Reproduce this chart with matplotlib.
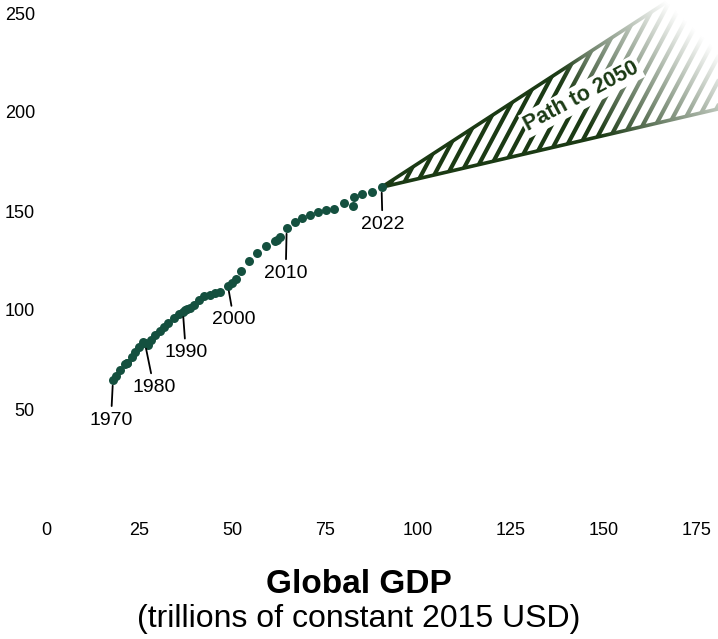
import numpy as np
import matplotlib
matplotlib.use("Agg")
import matplotlib.pyplot as plt
from matplotlib.patches import Polygon
from matplotlib.collections import LineCollection

plt.rcParams['font.family'] = ['Liberation Sans', 'DejaVu Sans']

# data
years = list(range(1970, 2023))
gdp = [18.0, 18.8, 19.9, 21.2, 21.7, 21.9, 23.0, 24.0, 25.1, 26.2,
       26.6, 27.2, 27.3, 28.1, 29.4, 30.6, 31.7, 32.9, 34.4, 35.7,
       36.8, 37.3, 38.0, 38.7, 39.9, 41.2, 42.6, 44.2, 45.3, 46.8,
       48.9, 49.9, 51.0, 52.4, 54.6, 56.7, 59.1, 61.6, 62.8, 62.0,
       64.7, 66.9, 68.7, 70.9, 73.1, 75.4, 77.5, 80.2, 82.8, 85.0,
       82.4, 87.5, 90.2]
value = [64.6, 66.5, 69.5, 72.8, 73.0, 73.4, 76.4, 79.0, 81.5, 83.8,
         83.2, 82.6, 82.4, 84.6, 87.2, 89.5, 91.5, 93.6, 96.2, 97.8,
         99.2, 100.0, 100.6, 101.2, 102.4, 104.8, 106.9, 107.8, 108.4, 109.2,
         112.2, 113.5, 115.5, 119.6, 124.6, 128.6, 132.5, 134.8, 137.0, 135.6,
         141.3, 144.6, 146.3, 148.2, 149.3, 150.4, 150.9, 153.9, 157.2, 158.8,
         152.6, 159.6, 162.0]

label_years = [1970, 1980, 1990, 2000, 2010, 2022]
label_offsets = [(-2, -40), (9, -44), (3, -41), (6, -34), (-1, -45), (1, -37)]

# projected cone to 2050 (gdp, low, high)
path_gdp_2050 = 200
path_low_2050 = 210
path_high_2050 = 296

xticks = [0, 25, 50, 75, 100, 125, 150, 175]
yticks = [50, 100, 150, 200, 250]

dot_color = '#14503f'
cone_color = '#1b3a14'

fig = plt.figure(figsize=(7.18, 6.39), dpi=100)
ax = fig.add_axes([46/718, 131/639, 672/718, 508/639])
xmax, ymax = 672/3.72, 508/1.98

ax.scatter(gdp, value, s=42, color=dot_color, linewidths=0, zorder=4)

for yr, (dx, dy) in zip(label_years, label_offsets):
    i = years.index(yr)
    ax.annotate(str(yr), xy=(gdp[i], value[i]), xytext=(dx, dy),
                textcoords='offset pixels', ha='center', va='center',
                fontsize=14, color='black', zorder=5,
                arrowprops=dict(arrowstyle='-', color='black', lw=1.3,
                                shrinkA=2, shrinkB=4))

# cone
x0, y0 = gdp[-1], value[-1]
cone = Polygon([[x0, y0], [path_gdp_2050, path_high_2050], [path_gdp_2050, path_low_2050]],
               closed=True, facecolor='none', edgecolor='none')
ax.add_patch(cone)

# hatch: steep stripes, clipped to the cone
px_x = 672 / xmax
px_y = 508 / ymax
slope = np.tan(np.radians(62)) * px_x / px_y
step = 13 / px_x
segs = []
for c in np.arange(30, 210, step):
    segs.append([(c, 140), (c + 180 / slope, 320)])
lc = LineCollection(segs, colors=cone_color, linewidths=3.0, zorder=2)
ax.add_collection(lc, autolim=False)
lc.set_clip_path(cone)

ax.plot([x0, path_gdp_2050], [y0, path_high_2050], color=cone_color, lw=2.6, zorder=2)
ax.plot([x0, path_gdp_2050], [y0, path_low_2050], color=cone_color, lw=2.6, zorder=2)

# white fade on the far end of the cone
gx, gy = np.meshgrid(np.linspace(130, 190, 240), np.linspace(140, 270, 240))
alpha = np.clip((gx - 142) / 55 + (gy - 200) / 100, 0, 1) * np.clip((gx - 136) / 8, 0, 1)
fade = np.ones(gx.shape + (4,))
fade[..., 3] = alpha
ax.imshow(fade, extent=[130, 190, 140, 270], origin='lower', aspect='auto',
          interpolation='bilinear', zorder=3)

ax.text(144, 208, 'Path to 2050', rotation=28, rotation_mode='anchor',
        ha='center', va='center', fontsize=15.5, fontweight='bold', color=cone_color,
        bbox=dict(facecolor='white', edgecolor='none', pad=1.5), zorder=6)

ax.set_xlim(0, xmax)
ax.set_ylim(0, ymax)
ax.set_xticks(xticks)
ax.set_yticks(yticks)
ax.tick_params(axis='both', length=0, labelsize=13, colors='black')
ax.tick_params(axis='x', pad=10)
ax.tick_params(axis='y', pad=8)
for s in ax.spines.values():
    s.set_visible(False)

fig.text(0.5, 1 - 593/639, 'Global GDP', ha='center', va='baseline',
         fontsize=24, fontweight='bold')
fig.text(0.5, 1 - 627/639, '(trillions of constant 2015 USD)', ha='center',
         va='baseline', fontsize=23)

fig.savefig('out.png', dpi=100)
